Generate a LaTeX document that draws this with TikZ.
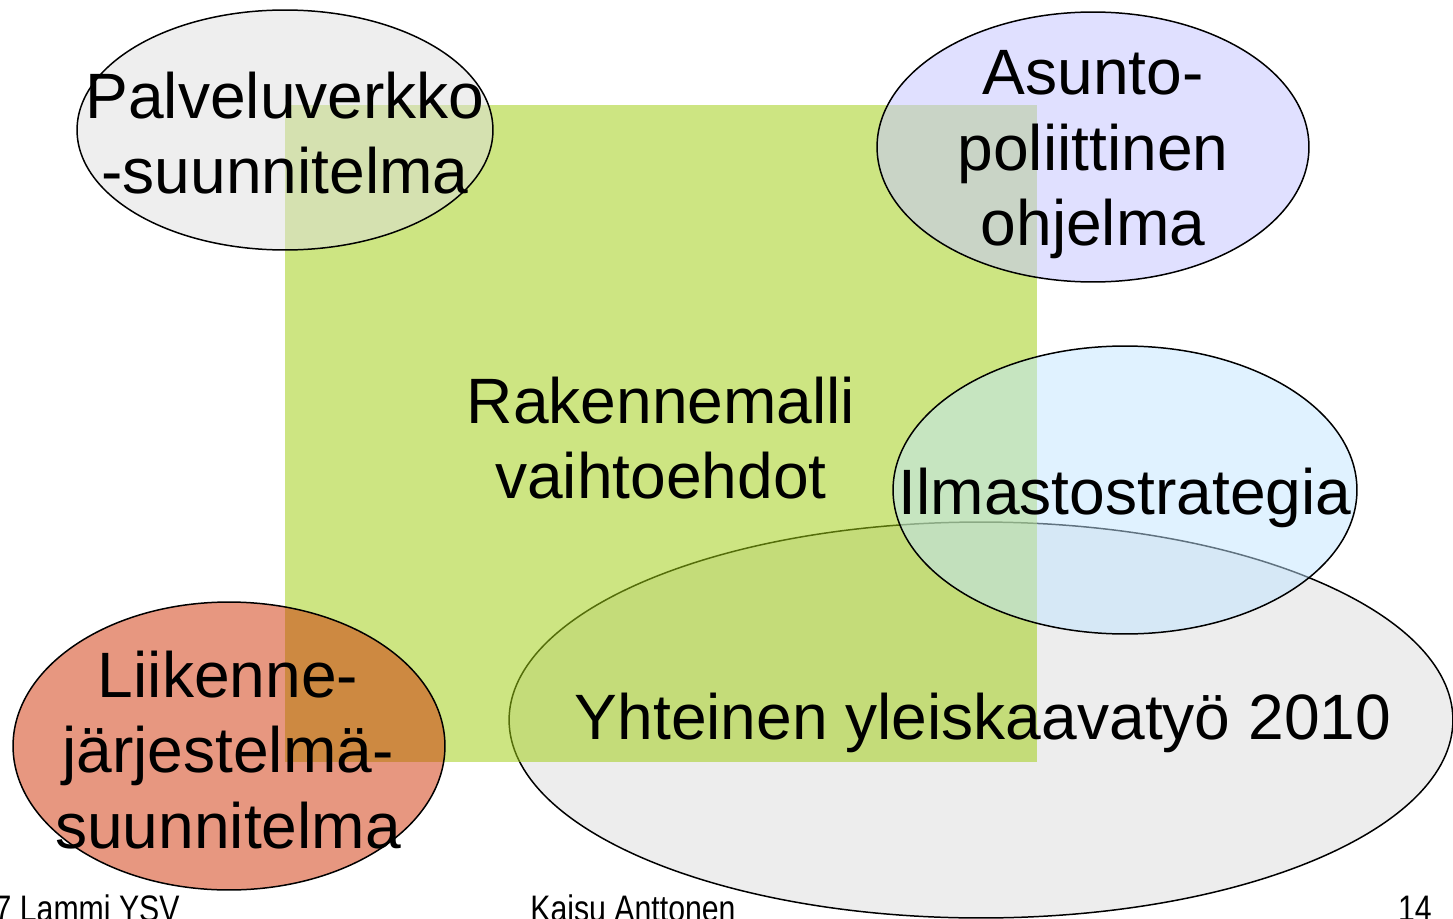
\documentclass[tikz,border=0pt]{standalone}
\usepackage{fontspec}
\setmainfont{Liberation Sans}
\usetikzlibrary{shapes.geometric}
\newcommand{\narrowtext}[1]{\scalebox{0.82}[1]{#1}}
\begin{document}
\begin{tikzpicture}[x=0.02cm,y=-0.02cm,
  plan/.style={ellipse,draw=black,line width=0.85pt,inner sep=0pt},
  label/.style={align=center,font=\fontsize{36.5}{43}\selectfont},
  foot/.style={font=\fontsize{21}{24}\selectfont,inner sep=0pt}]
\useasboundingbox (0,0) rectangle (1453,919);
% yhteinen yleiskaava under the model square
\node[plan,fill=black!7,minimum width=18.88cm,minimum height=7.92cm] (yleiskaava) at (981,720) {};
% rakennemalli
\fill[fill={rgb,255:red,160;green,206;blue,19},fill opacity=0.53] (285,105) rectangle (1037,762);
\node[plan,fill=black!13,fill opacity=0.5,minimum width=8.32cm,minimum height=4.8cm] (palvelu) at (285,130) {};
\node[plan,fill={rgb,255:red,198;green,198;blue,255},fill opacity=0.55,minimum width=8.64cm,minimum height=5.4cm] (asunto) at (1093,147) {};
\node[plan,fill={rgb,255:red,193;green,229;blue,255},fill opacity=0.5,minimum width=9.28cm,minimum height=5.76cm] (ilmasto) at (1125,490) {};
\node[plan,fill={rgb,255:red,207;green,47;blue,1},fill opacity=0.5,minimum width=8.64cm,minimum height=5.76cm] (liikenne) at (229,746) {};
% texts
\node[label] (palveluText) at (285,133) {Palveluverkko\\-suunnitelma};
\node[label] (asuntoText) at (1093,155) {Asunto-\\poliittinen\\ohjelma};
\node[label] (rakenneText) at (661,438) {Rakennemalli\\vaihtoehdot};
\node[label] (ilmastoText) at (1125,498) {Ilmastostrategia};
\node[label] (yleiskaavaText) at (983,723) {Yhteinen yleiskaavatyö 2010};
\node[label] (liikenneText) at (228,750) {Liikenne-\\järjestelmä-\\suunnitelma};
% footer
\node[foot,anchor=base east] (paikka) at (180,921) {\narrowtext{7 Lammi YSV}};
\node[foot,anchor=base] (tekija) at (633,921) {\narrowtext{Kaisu Anttonen}};
\node[foot,anchor=base east] (sivu) at (1432,921) {\narrowtext{14}};
\end{tikzpicture}
\end{document}
